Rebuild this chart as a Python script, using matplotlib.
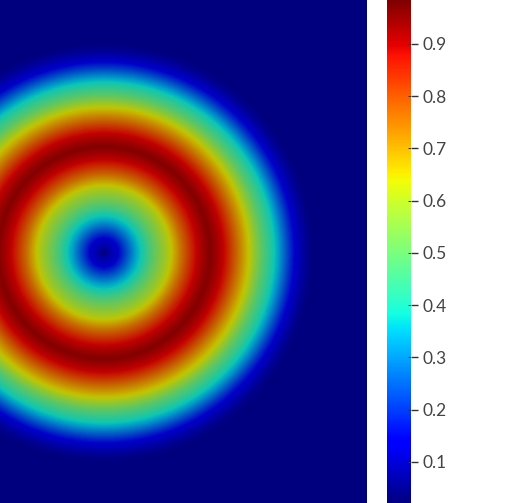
import numpy as np
import matplotlib
matplotlib.use("Agg")
import matplotlib.pyplot as plt
from matplotlib.colors import ListedColormap

# radial profile (px from ring centre -> value)
radius = [0, 4, 8, 13, 23, 33, 40, 46, 56, 66, 78, 91, 99, 106, 113, 121, 133, 146, 157, 172, 184, 191, 197, 204, 210, 700]
value = [0.022, 0.05, 0.09, 0.13, 0.24, 0.35, 0.41, 0.47, 0.55, 0.63, 0.76, 0.88, 0.945, 0.98, 0.945, 0.88, 0.76, 0.63, 0.5, 0.365, 0.22, 0.14, 0.08, 0.035, 0.021, 0.021]
ticks = [0.1, 0.2, 0.3, 0.4, 0.5, 0.6, 0.7, 0.8, 0.9]
vmin = 0.021
vmax = 0.984
center = (104, 252.5)

W, H = 509, 503
plt.rcParams['font.family'] = ['Lato', 'DejaVu Sans']

# the field is drawn lit, so its middle colours are dimmer than the colour bar
pos = np.linspace(0, 1, 256)
lut = plt.get_cmap('jet')(pos)
dim = np.interp(pos, [0, 0.1, 0.89, 1], [1, 0.78, 0.78, 1])
lut[:, :3] *= dim[:, None]
field_cmap = ListedColormap(lut)

fig = plt.figure(figsize=(W / 100, H / 100), dpi=100)
ax = fig.add_axes([0, 0, 367 / W, 1])
cax = fig.add_axes([387 / W, 0, 24 / W, 1])

yy, xx = np.mgrid[0:503, 0:367]
rr = np.hypot(xx + 0.5 - center[0], yy + 0.5 - center[1])
field = np.interp(rr, radius, value)
ax.imshow(field, cmap=field_cmap, vmin=vmin, vmax=vmax, extent=(0, 367, 503, 0), interpolation='bilinear', aspect='auto')
ax.axis('off')

sm = plt.cm.ScalarMappable(norm=plt.Normalize(vmin, vmax), cmap='jet')
cb = fig.colorbar(sm, cax=cax)
cb.outline.set_visible(False)
cb.set_ticks(ticks)
cb.set_ticklabels([str(v) for v in ticks])
cax.tick_params(length=5, width=1, color='#333333', labelcolor='#444444', labelsize=12.5, pad=3.6)
cax.hlines(ticks, 0.875, 1, color='#333333', lw=0.72, transform=cax.get_yaxis_transform())

fig.savefig('out.png', dpi=100)
